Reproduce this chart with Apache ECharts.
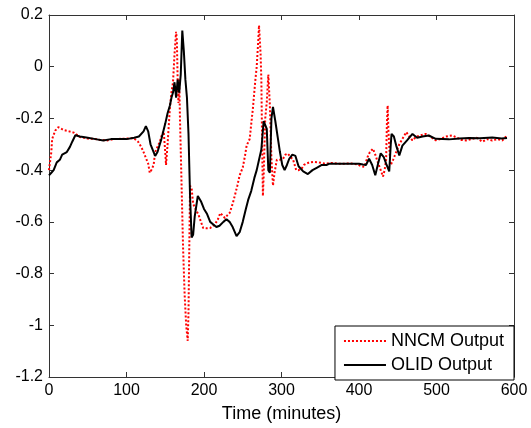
<!DOCTYPE html>
<html>
<head>
<meta charset="utf-8">
<script src="https://cdn.jsdelivr.net/npm/echarts@6/dist/echarts.min.js"></script>
<style>
  html, body { margin: 0; padding: 0; background: #fff; }
  #chart { width: 531px; height: 428px; }
</style>
</head>
<body>
<div id="chart"></div>
<script>
// Datos (tiempo en minutos)
let nombres = ['NNCM Output', 'OLID Output'];

let nncmTime = [0, 2, 3, 4, 8, 12, 19, 26, 32, 40, 50, 58, 66, 75, 84, 92, 100, 109, 115, 119, 122, 126, 128, 130, 132, 135, 137, 140, 143, 146, 148, 150, 151, 153, 156, 158, 160, 162, 164, 165, 166, 167, 168, 169, 171, 173, 175, 177, 179, 180, 181, 182, 184, 186, 189, 193, 196, 199, 204, 208, 214, 218, 221, 224, 227, 230, 233, 237, 240, 243, 246, 250, 253, 255, 259, 261, 263, 266, 268, 270, 271, 273, 274, 275, 276, 277, 279, 281, 283, 285, 287, 289, 291, 294, 298, 302, 305, 308, 312, 315, 319, 322, 326, 329, 332, 336, 341, 348, 356, 364, 372, 380, 390, 398, 403, 407, 411, 414, 418, 421, 424, 428, 431, 433, 435, 436, 437, 438, 440, 441, 444, 448, 452, 456, 461, 465, 469, 474, 480, 486, 492, 499, 505, 512, 520, 527, 532, 538, 545, 552, 559, 566, 572, 578, 585, 591];
let nncmValue = [-0.40, -0.40, -0.33, -0.28, -0.247, -0.234, -0.245, -0.25, -0.255, -0.272, -0.278, -0.279, -0.283, -0.285, -0.28, -0.279, -0.278, -0.276, -0.29, -0.31, -0.33, -0.36, -0.375, -0.41, -0.40, -0.38, -0.33, -0.31, -0.29, -0.26, -0.25, -0.33, -0.38, -0.30, -0.16, -0.10, -0.06, 0.05, 0.135, 0.10, -0.05, -0.14, -0.05, -0.20, -0.45, -0.70, -0.88, -1.0, -1.06, -0.95, -0.70, -0.46, -0.47, -0.53, -0.55, -0.573, -0.60, -0.624, -0.625, -0.624, -0.61, -0.59, -0.566, -0.575, -0.585, -0.575, -0.566, -0.53, -0.496, -0.46, -0.42, -0.39, -0.343, -0.305, -0.279, -0.22, -0.164, -0.06, 0.0, 0.10, 0.16, 0.05, -0.05, -0.30, -0.50, -0.42, -0.20, -0.137, -0.03, -0.15, -0.356, -0.46, -0.41, -0.36, -0.36, -0.356, -0.34, -0.336, -0.35, -0.36, -0.40, -0.40, -0.394, -0.38, -0.375, -0.37, -0.368, -0.37, -0.375, -0.372, -0.375, -0.375, -0.374, -0.378, -0.385, -0.387, -0.35, -0.33, -0.317, -0.34, -0.367, -0.40, -0.425, -0.40, -0.36, -0.22, -0.15, -0.25, -0.36, -0.38, -0.36, -0.33, -0.30, -0.279, -0.253, -0.27, -0.285, -0.27, -0.265, -0.26, -0.27, -0.285, -0.28, -0.27, -0.266, -0.275, -0.283, -0.285, -0.28, -0.275, -0.29, -0.28, -0.286, -0.28, -0.285, -0.266];

let olidTime = [0, 3, 6, 10, 14, 17, 23, 27, 30, 34, 40, 50, 60, 70, 80, 90, 100, 110, 116, 122, 125, 128, 131, 135, 137, 140, 145, 150, 153, 156, 158, 160, 162, 164, 166, 168, 170, 172, 174, 176, 178, 180, 182, 184, 186, 188, 192, 196, 200, 204, 208, 212, 216, 220, 225, 229, 233, 237, 242, 246, 250, 254, 257, 261, 265, 268, 271, 274, 277, 279, 281, 283, 285, 287, 289, 292, 295, 298, 301, 304, 307, 310, 314, 318, 322, 328, 334, 340, 346, 352, 358, 362, 370, 380, 390, 400, 405, 409, 413, 417, 421, 425, 428, 432, 435, 439, 441, 442, 445, 448, 452, 456, 462, 469, 475, 482, 490, 499, 508, 516, 530, 542, 556, 572, 584, 591];
let olidValue = [-0.42, -0.41, -0.40, -0.37, -0.36, -0.34, -0.33, -0.31, -0.29, -0.265, -0.27, -0.275, -0.28, -0.285, -0.28, -0.28, -0.28, -0.275, -0.27, -0.25, -0.23, -0.25, -0.30, -0.33, -0.345, -0.33, -0.28, -0.22, -0.18, -0.15, -0.12, -0.10, -0.06, -0.12, -0.05, -0.10, -0.03, 0.14, 0.06, -0.05, -0.12, -0.26, -0.50, -0.66, -0.65, -0.58, -0.50, -0.52, -0.55, -0.57, -0.60, -0.61, -0.62, -0.615, -0.60, -0.59, -0.60, -0.62, -0.655, -0.64, -0.60, -0.55, -0.515, -0.48, -0.43, -0.40, -0.36, -0.32, -0.21, -0.21, -0.24, -0.40, -0.41, -0.20, -0.155, -0.21, -0.27, -0.33, -0.38, -0.40, -0.38, -0.356, -0.34, -0.345, -0.385, -0.405, -0.415, -0.40, -0.39, -0.38, -0.38, -0.375, -0.375, -0.375, -0.375, -0.375, -0.378, -0.38, -0.356, -0.38, -0.42, -0.37, -0.335, -0.35, -0.375, -0.405, -0.30, -0.26, -0.27, -0.305, -0.343, -0.305, -0.285, -0.26, -0.275, -0.27, -0.266, -0.279, -0.28, -0.281, -0.278, -0.276, -0.277, -0.274, -0.278, -0.276];

let xTicks = { min: 0, max: 600, interval: 100 };
let yTicks = { min: -1.2, max: 0.2, interval: 0.2 };

let pares = (t, v) => t.map((x, i) => [x, v[i]]);

let fuente = '"Liberation Sans", Arial, sans-serif';

// Inicializa el grafico
let chart = echarts.init(document.getElementById('chart'));

let ejeX = {
    type: 'value',
    min: xTicks.min,
    max: xTicks.max,
    interval: xTicks.interval,
    axisLine: { show: true, onZero: false, lineStyle: { color: '#333', width: 1 } },
    axisTick: { show: true, inside: true, length: 5, lineStyle: { color: '#333' } },
    splitLine: { show: false }
};
let ejeY = {
    type: 'value',
    min: yTicks.min,
    max: yTicks.max,
    interval: yTicks.interval,
    axisLine: { show: true, onZero: false, lineStyle: { color: '#333', width: 1 } },
    axisTick: { show: true, inside: true, length: 5, lineStyle: { color: '#333' } },
    splitLine: { show: false }
};

let option = {
    animation: false,
    backgroundColor: '#fff',
    grid: { left: 49, right: 17, top: 15, bottom: 48, containLabel: false },
    legend: {
        data: nombres,
        orient: 'vertical',
        right: 17,
        bottom: 48,
        backgroundColor: '#fff',
        borderColor: '#000',
        borderWidth: 1,
        borderRadius: 0,
        padding: [6, 10, 6, 8],
        itemWidth: 42,
        itemHeight: 18,
        itemGap: 6,
        itemStyle: { opacity: 0 },   // solo la linea, sin simbolo
        textStyle: { fontFamily: fuente, fontSize: 18, color: '#000' }
    },
    xAxis: [
        Object.assign({}, ejeX, {
            position: 'bottom',
            name: 'Time (minutes)',
            nameLocation: 'middle',
            nameGap: 28,
            nameTextStyle: { fontFamily: fuente, fontSize: 18, color: '#000' },
            axisLabel: { fontFamily: fuente, fontSize: 16, color: '#000', margin: 6 }
        }),
        Object.assign({}, ejeX, { position: 'top', axisLabel: { show: false } })
    ],
    yAxis: [
        Object.assign({}, ejeY, {
            position: 'left',
            axisLabel: { fontFamily: fuente, fontSize: 16, color: '#000', margin: 6 }
        }),
        Object.assign({}, ejeY, { position: 'right', axisLabel: { show: false } })
    ],
    series: [{
        name: nombres[0],
        type: 'line',
        data: pares(nncmTime, nncmValue),
        showSymbol: false,
        symbol: 'none',
        color: '#ff0000',
        lineStyle: { color: '#ff0000', width: 2, type: 'dotted' }
    }, {
        name: nombres[1],
        type: 'line',
        data: pares(olidTime, olidValue),
        showSymbol: false,
        symbol: 'none',
        color: '#000',
        lineStyle: { color: '#000', width: 2 }
    }]
};

option && chart.setOption(option);
window.addEventListener('resize', chart.resize);
</script>
</body>
</html>
